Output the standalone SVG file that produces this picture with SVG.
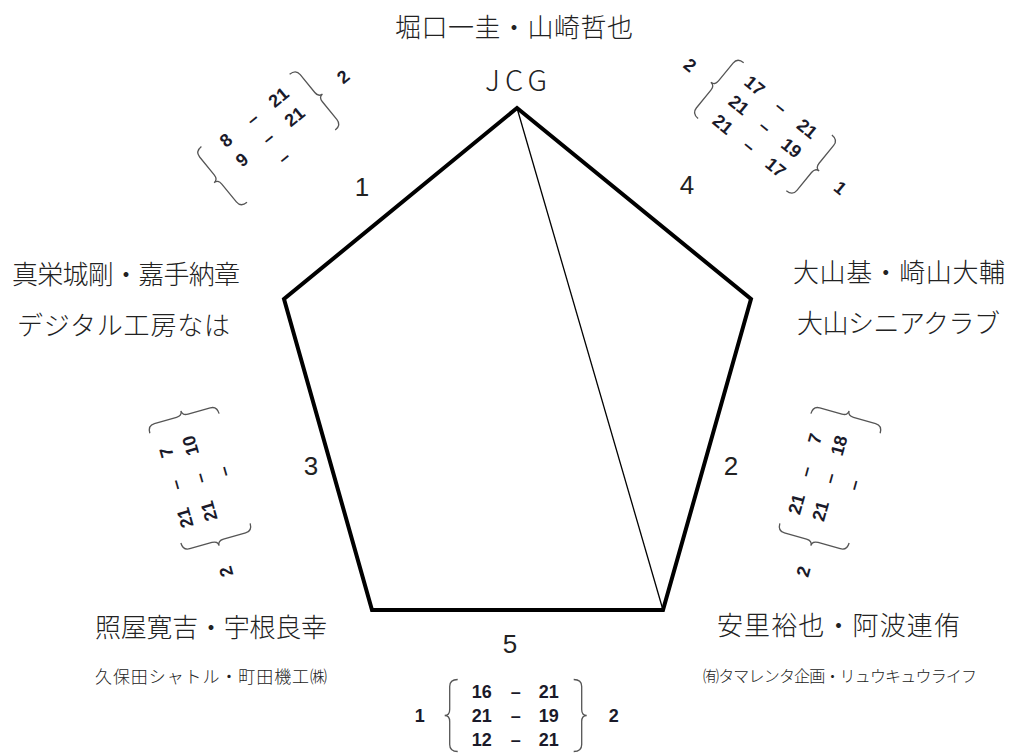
<svg xmlns="http://www.w3.org/2000/svg" width="1013" height="754" viewBox="0 0 1013 754">
<style>
.jp{font-family:"Noto Sans CJK JP","Noto Sans CJK SC",sans-serif;font-weight:300;fill:#222;dominant-baseline:central;}
.big{font-size:26px;}
.sm{font-size:17px;}
.xs{font-size:16px;}
.en{font-family:"Liberation Sans",Arial,sans-serif;fill:#222;font-size:26px;text-anchor:middle;dominant-baseline:central;}
.sc{font-family:"Liberation Sans",Arial,sans-serif;font-weight:bold;font-size:18px;fill:#1a1a2a;text-anchor:middle;dominant-baseline:central;}
.br{fill:none;stroke:#555;stroke-width:1.3;}
</style>
<defs>
<path id="lb" class="br" d="M8,-36 Q0,-36 0,-29 L0,-6 Q0,0 -5,0 Q0,0 0,6 L0,29 Q0,36 8,36"/>
<path id="rb" class="br" d="M-8,-36 Q0,-36 0,-29 L0,-6 Q0,0 5,0 Q0,0 0,6 L0,29 Q0,36 -8,36"/>
</defs>
<rect width="1013" height="754" fill="#fff"/>

<g id="connectors">
<polygon points="517,108 751,299 663,610 372,610 284,299" fill="none" stroke="#000" stroke-width="4" stroke-linejoin="miter"/>
<line x1="517" y1="108" x2="663" y2="610" stroke="#000" stroke-width="1.3"/>
</g>

<g id="node-top">
<text class="jp big" x="395" y="25" textLength="238">堀口一圭・山崎哲也</text>
<text class="jp" x="485" y="78" font-size="29" textLength="62">JCG</text>
</g>
<g id="node-left">
<text class="jp big" x="12" y="272.5" textLength="228">真栄城剛・嘉手納章</text>
<text class="jp big" x="17" y="323.5" textLength="213">デジタル工房なは</text>
</g>
<g id="node-right">
<text class="jp big" x="793" y="270.5" textLength="212">大山基・崎山大輔</text>
<text class="jp big" x="797" y="321.5" textLength="203">大山シニアクラブ</text>
</g>
<g id="node-bottom-left">
<text class="jp big" x="95" y="625" textLength="232">照屋寛吉・宇根良幸</text>
<text class="jp sm" x="95" y="675" textLength="232">久保田シャトル・町田機工㈱</text>
</g>
<g id="node-bottom-right">
<text class="jp big" x="717" y="623.5" textLength="243">安里裕也・阿波連侑</text>
<text class="jp xs" x="703" y="674.5" textLength="274">㈲タマレンタ企画・リュウキュウライフ</text>
</g>

<g id="edge-labels">
<text class="en" x="362" y="187">1</text>
<text class="en" x="687" y="185">4</text>
<text class="en" x="311" y="466">3</text>
<text class="en" x="731" y="466">2</text>
<text class="en" x="510" y="644">5</text>
</g>

<g id="scores">
<g id="score-1" transform="translate(268.3,138.3) rotate(-39.3)">
<use href="#lb" x="-65"/><use href="#rb" x="65"/>
<text class="sc" x="-34" y="-25">8</text><text class="sc" x="0" y="-25">–</text><text class="sc" x="34" y="-25">21</text>
<text class="sc" x="-34" y="0">9</text><text class="sc" x="0" y="0">–</text><text class="sc" x="34" y="0">21</text>
<text class="sc" x="0" y="25">–</text>
<text class="sc" x="97" y="0">2</text>
</g>
<g id="score-4" transform="translate(765,126.7) rotate(39.3)">
<use href="#lb" x="-65"/><use href="#rb" x="65"/>
<text class="sc" x="-34" y="-25">17</text><text class="sc" x="0" y="-25">–</text><text class="sc" x="34" y="-25">21</text>
<text class="sc" x="-34" y="0">21</text><text class="sc" x="0" y="0">–</text><text class="sc" x="34" y="0">19</text>
<text class="sc" x="-34" y="25">21</text><text class="sc" x="0" y="25">–</text><text class="sc" x="34" y="25">17</text>
<text class="sc" x="-97" y="0">2</text>
<text class="sc" x="97" y="0">1</text>
</g>
<g id="score-2" transform="translate(830,478.3) rotate(-74.2)">
<use href="#lb" x="-65"/><use href="#rb" x="65"/>
<text class="sc" x="-34" y="-25">21</text><text class="sc" x="0" y="-25">–</text><text class="sc" x="34" y="-25">7</text>
<text class="sc" x="-34" y="0">21</text><text class="sc" x="0" y="0">–</text><text class="sc" x="34" y="0">18</text>
<text class="sc" x="0" y="25">–</text>
<text class="sc" x="-97" y="0">2</text>
</g>
<g id="score-3" transform="translate(200,478.3) rotate(-105.8)">
<use href="#lb" x="-65"/><use href="#rb" x="65"/>
<text class="sc" x="-34" y="-25">21</text><text class="sc" x="0" y="-25">–</text><text class="sc" x="34" y="-25">7</text>
<text class="sc" x="-34" y="0">21</text><text class="sc" x="0" y="0">–</text><text class="sc" x="34" y="0">10</text>
<text class="sc" x="0" y="25">–</text>
<text class="sc" x="-97" y="0">2</text>
</g>
<g id="score-5" transform="translate(515.7,715.5)">
<use href="#lb" x="-66"/><use href="#rb" x="66"/>
<text class="sc" x="-34" y="-24">16</text><text class="sc" x="0" y="-24">–</text><text class="sc" x="33" y="-24">21</text>
<text class="sc" x="-34" y="0">21</text><text class="sc" x="0" y="0">–</text><text class="sc" x="33" y="0">19</text>
<text class="sc" x="-34" y="24">12</text><text class="sc" x="0" y="24">–</text><text class="sc" x="33" y="24">21</text>
<text class="sc" x="-96" y="0">1</text>
<text class="sc" x="98" y="0">2</text>
</g>
</g>
</svg>
